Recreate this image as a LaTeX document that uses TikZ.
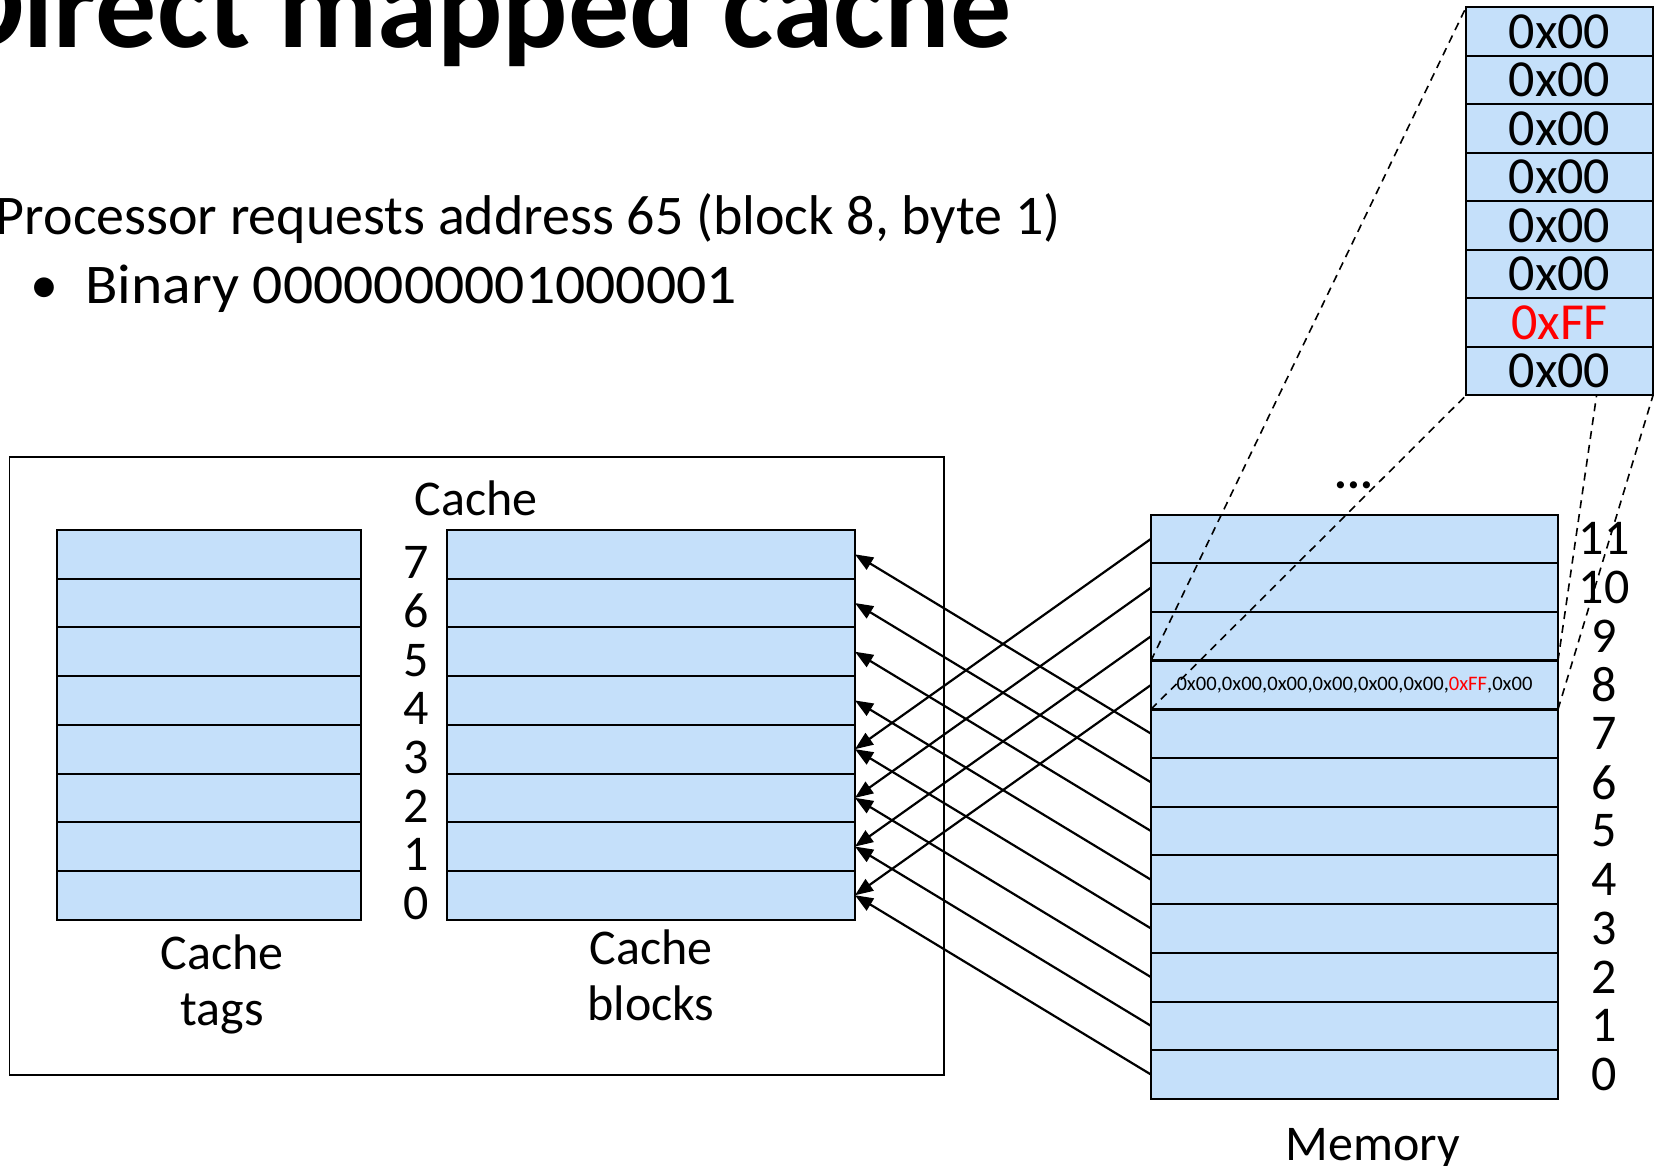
\documentclass[tikz,border=0pt]{standalone}
\usepackage{fontspec}
\setmainfont{Carlito}
\usetikzlibrary{arrows.meta}

\definecolor{cellblue}{RGB}{197,224,250}
\pgfdeclarelayer{front}
\pgfsetlayers{main,front}

\begin{document}
\begin{tikzpicture}[x=0.5pt, y=-0.5pt,
    cell/.style={
        draw,
        rectangle,
        fill=cellblue,
        line width=1pt,
        minimum height=24.35pt,
        inner sep=0pt,
        outer sep=0pt,
        anchor=north west},
    lbl/.style={font=\fontsize{25}{28}\selectfont, inner sep=0pt},
    body/.style={font=\fontsize{28}{34}\selectfont, inner sep=0pt},
    maparrow/.style={-{Triangle[length=9pt,width=7pt]}, line width=1.1pt},
    zoomline/.style={dash pattern=on 4pt off 3pt, line width=0.8pt},
]

\useasboundingbox (0,0) rectangle (1660,1166);
\clip (0,0) rectangle (1660,1166);
\fill[white] (0,0) rectangle (1660,1166);

% heading
\node[anchor=base east, inner sep=0pt, font=\fontsize{61}{70}\selectfont\bfseries] (title) at (1012,48) {Direct mapped cache};
\node[body, anchor=base east] (request) at (1061,235) {Processor requests address 65 (block 8, byte 1)};
\node[body, anchor=base] (bullet) at (44,304) {\textbullet};
\node[body, anchor=base west] (binary) at (85,304) {\scalebox{1.065}[1]{Binary 0000000001000001}};

% the cache: tags, index, blocks
\node[draw, line width=0.8pt, minimum width=467.25pt, minimum height=309pt,
      inner sep=0pt, outer sep=0pt, anchor=north west] (cache) at (9.5,457) {};
\node[lbl] (cachename) at (476,498) {Cache};
\foreach \i in {0,...,7}{
    \node[cell, minimum width=152pt] (tag\i) at (57,{530+(7-\i)*48.7}) {};
    \node[cell, minimum width=204pt] (blk\i) at (447,{530+(7-\i)*48.7}) {};
    \node[lbl, anchor=base] (idx\i) at ([xshift=-15.5pt]blk\i.south west) {\i};
}
\node[lbl, align=center, anchor=north] (tagname) at (222,934) {Cache\\tags};
\node[lbl, align=center, anchor=north] (blkname) at (651,929) {Cache\\blocks};

% memory, block i goes to slot i mod 8
\foreach \i in {0,...,11}{
    \node[cell, minimum width=203.5pt] (mem\i) at (1151,{514.5+(11-\i)*48.7}) {};
    \node[lbl] (addr\i) at ([xshift=23pt]mem\i.east) {\i};
}
\draw[line width=1.4pt] (mem8.north west) rectangle (mem8.south east);
\node[inner sep=0pt, font=\fontsize{10.3}{12}\selectfont] (bytes) at (mem8)
    {0x00,0x00,0x00,0x00,0x00,0x00,\textcolor{red}{0xFF},0x00};
\node[anchor=base, inner sep=0pt, font=\fontsize{24}{28}\selectfont\bfseries] (more) at (1354,488) {...};
\node[lbl, anchor=base] (memname) at (1373,1160) {Memory};

\foreach \i in {0,...,11}{
    \pgfmathtruncatemacro\slot{mod(\i,8)}
    \draw[maparrow] (mem\i.west) -- (blk\slot.east);
}

% bytes of block 8, blown up
\begin{pgfonlayer}{front}
\foreach \v/\c [count=\k] in {0x00/black,0x00/black,0x00/black,0x00/black,
                              0x00/black,0x00/black,0xFF/red,0x00/black}
    \node[cell, minimum width=93.5pt, minimum height=24.25pt, text=\c,
          font=\fontsize{26}{30}\selectfont] (zm\k) at (1466,{7.4+(\k-1)*48.5}) {\v};
\end{pgfonlayer}

\draw[zoomline] (mem8.north west) -- (zm1.north west);
\draw[zoomline] (mem8.south west) -- (zm8.south west);
\draw[zoomline] (mem8.north east) -- (zm1.north east);
\draw[zoomline] (mem8.south east) -- (zm8.south east);
\end{tikzpicture}
\end{document}
